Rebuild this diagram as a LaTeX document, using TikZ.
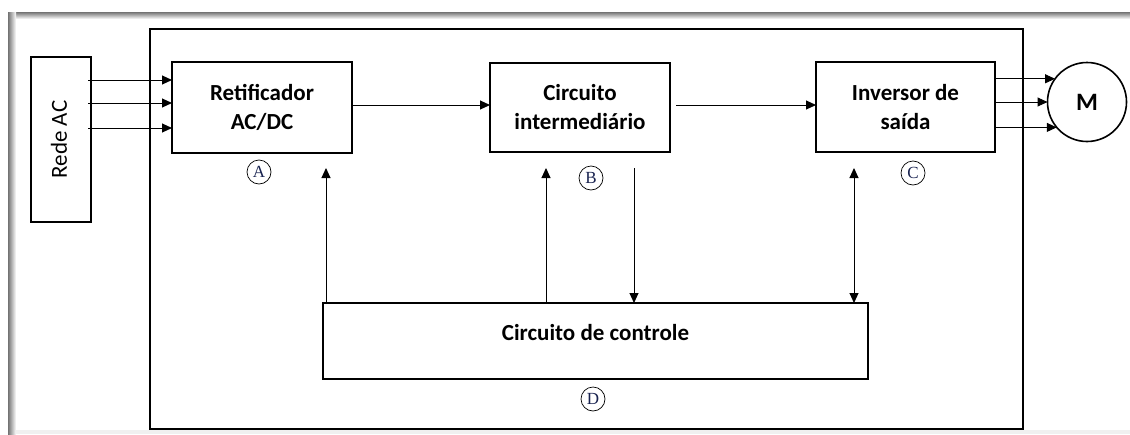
\documentclass[tikz,border=0pt]{standalone}
\usepackage{fontspec}
\setmainfont{Carlito}
\newfontfamily\serifc{Liberation Serif}
\usetikzlibrary{arrows.meta}
\tikzset{
  box/.style={draw, line width=2pt, inner sep=0pt, outer sep=0pt, align=center,
    font=\bfseries\fontsize{23}{29}\selectfont},
  arr/.style={line width=1pt, -{Triangle[length=10pt,width=9pt]}},
  darr/.style={line width=1pt, {Triangle[length=10pt,width=9pt]}-{Triangle[length=10pt,width=9pt]}},
  lab/.style={circle, draw, line width=0.7pt, minimum size=24pt, inner sep=0pt,
    font=\serifc\fontsize{17}{17}\selectfont, text={rgb,255:red,25;green,35;blue,80}},
}
\begin{document}
\begin{tikzpicture}[x=1pt,y=-1pt]
\useasboundingbox (0,0) rectangle (1130,434);
% screenshot frame shading
\shade[top color=black!55, bottom color=white] (8,12) rectangle (1130,19);
\shade[left color=black!55, right color=white] (8,12) rectangle (16,434);
\fill[black!6] (16,430) rectangle (1130,434);
% outer box
\node[draw, line width=2.2pt, minimum width=873pt, minimum height=400pt, inner sep=0pt, outer sep=0pt] (outer) at (586.5,229) {};
% blocks
\node[box, minimum width=60pt, minimum height=165pt] (rede) at (61,139.5) {};
\node[rotate=90, font=\fontsize{23}{27}\selectfont] (redet) at (59,139.5) {Rede AC};
\node[box, minimum width=180pt, minimum height=91pt] (ret) at (262,107.5) {Retificador\\AC/DC};
\node[box, minimum width=180pt, minimum height=89pt] (ci) at (580,107.5) {Circuito\\intermediário};
\node[box, minimum width=179pt, minimum height=90pt] (inv) at (905.5,107) {Inversor de\\saída};
\node[box, minimum width=545pt, minimum height=76pt] (ctl) at (595.5,341) {};
\node[font=\bfseries\fontsize{23}{29}\selectfont] (ctlt) at (595.5,333) {Circuito de controle};
\node[circle, draw, line width=1.6pt, minimum size=79pt, inner sep=0pt, outer sep=0pt,
  font=\bfseries\fontsize{25}{28}\selectfont] (M) at (1087,102) {M};
% circled labels
\node[lab] (la) at (259,172) {A};
\node[lab] (lb) at (591,178) {B};
\node[lab] (lc) at (913,173) {C};
\node[lab] (ld) at (593,399) {D};
% input arrows
\draw[arr] (88,80) -- (ret.west |- 0,80);
\draw[arr] (88,103) -- (ret.west |- 0,103);
\draw[arr] (88,128) -- (ret.west |- 0,128);
% main chain
\draw[arr] (ret.east |- 0,105) -- (ci.west |- 0,105);
\coordinate (cio) at (676,105);
\draw[arr] (cio) -- (inv.west |- cio);
% motor arrows
\draw[arr] (inv.east |- M.144) -- (M.144);
\draw[arr] (inv.east |- M.180) -- (M.180);
\draw[arr] (inv.east |- M.220) -- (M.220);
% control arrows
\coordinate (t1) at (326,168);
\coordinate (t2) at (546,168);
\coordinate (t3) at (634,168);
\coordinate (t4) at (854,168);
\draw[arr] (ctl.north -| t1) -- (t1);
\draw[arr] (ctl.north -| t2) -- (t2);
\draw[arr] (t3) -- (ctl.north -| t3);
\draw[darr] (t4) -- (ctl.north -| t4);
\end{tikzpicture}
\end{document}
